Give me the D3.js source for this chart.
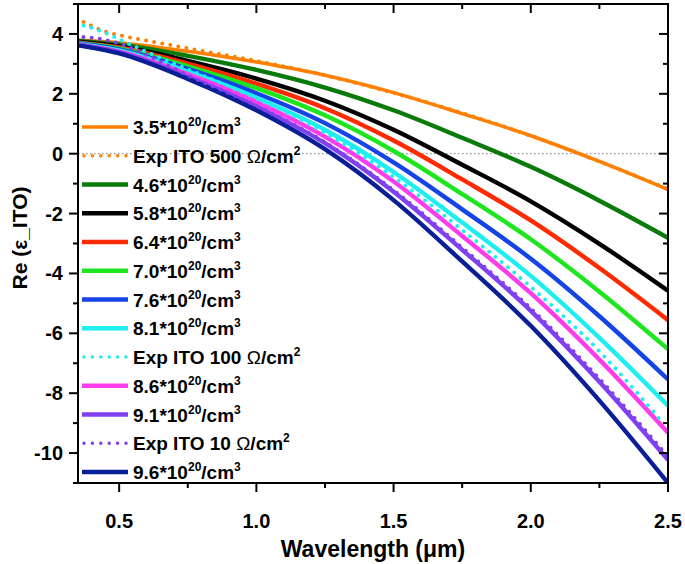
<!DOCTYPE html>
<html><head><meta charset="utf-8">
<script src="https://cdn.jsdelivr.net/npm/d3@7"></script>
<style>body{margin:0;background:#fff}text{font-family:"Liberation Sans",Arial,sans-serif;font-weight:bold}</style>
</head><body><svg id="c" width="685" height="564"></svg>
<script>
// ---- data ----
const wavelengths = [0.35,0.5,0.75,1.0,1.25,1.5,1.75,2.0,2.25,2.5];
const n35 = [3.80,3.71,3.42,3.06,2.62,2.04,1.34,0.60,-0.26,-1.20];
const n46 = [3.77,3.65,3.27,2.80,2.21,1.45,0.53,-0.44,-1.57,-2.81];
const n58 = [3.74,3.59,3.10,2.51,1.77,0.80,-0.37,-1.59,-3.01,-4.58];
const n64 = [3.72,3.55,3.01,2.34,1.52,0.44,-0.86,-2.23,-3.82,-5.56];
const n70 = [3.70,3.52,2.92,2.19,1.28,0.09,-1.35,-2.86,-4.61,-6.53];
const n76 = [3.69,3.48,2.83,2.02,1.02,-0.29,-1.86,-3.51,-5.43,-7.54];
const n81 = [3.67,3.45,2.74,1.87,0.80,-0.61,-2.30,-4.08,-6.15,-8.42];
const n86 = [3.65,3.41,2.66,1.73,0.57,-0.93,-2.75,-4.66,-6.88,-9.32];
const n91 = [3.64,3.38,2.57,1.58,0.35,-1.27,-3.21,-5.25,-7.62,-10.23];
const n96 = [3.62,3.35,2.50,1.45,0.15,-1.55,-3.60,-5.75,-8.25,-11.0];
const exp500X = [0.37,0.45,0.5,0.6,0.75,1.0,1.25,1.5,1.75,2.0,2.25,2.5];
const exp500Y = [4.40,4.08,3.96,3.78,3.52,3.10,2.62,2.03,1.36,0.60,-0.26,-1.18];
const exp100X = [0.37,0.42,0.45,0.5,0.6,0.75,1.0,1.25,1.5,1.75,2.0,2.25,2.47];
const exp100Y = [4.28,4.14,4.03,3.82,3.40,2.82,1.85,0.70,-0.78,-2.55,-4.45,-6.60,-8.87];
const exp10X = [0.37,0.45,0.5,0.6,0.75,1.0,1.25,1.5,1.75,2.0,2.25,2.5];
const exp10Y = [3.90,3.80,3.68,3.30,2.62,1.60,0.38,-1.22,-3.14,-5.17,-7.52,-10.12];
const xTicks = [0.5,1.0,1.5,2.0,2.5];
const yTicks = [-10,-8,-6,-4,-2,0,2,4];

const series = [
  {pre:"3.5*10", sup:"20", mid:"/cm", sup2:"3", xs:wavelengths, ys:n35, color:"#FF8000", dotted:false, w:3.5},
  {pre:"Exp ITO 500 ", omega:true, mid:"/cm", sup2:"2", xs:exp500X, ys:exp500Y, color:"#FF8000", dotted:true},
  {pre:"4.6*10", sup:"20", mid:"/cm", sup2:"3", xs:wavelengths, ys:n46, color:"#0A7A0A", dotted:false},
  {pre:"5.8*10", sup:"20", mid:"/cm", sup2:"3", xs:wavelengths, ys:n58, color:"#000000", dotted:false},
  {pre:"6.4*10", sup:"20", mid:"/cm", sup2:"3", xs:wavelengths, ys:n64, color:"#FF2A00", dotted:false},
  {pre:"7.0*10", sup:"20", mid:"/cm", sup2:"3", xs:wavelengths, ys:n70, color:"#1EE61E", dotted:false},
  {pre:"7.6*10", sup:"20", mid:"/cm", sup2:"3", xs:wavelengths, ys:n76, color:"#1444E6", dotted:false},
  {pre:"8.1*10", sup:"20", mid:"/cm", sup2:"3", xs:wavelengths, ys:n81, color:"#1EEEF0", dotted:false},
  {pre:"Exp ITO 100 ", omega:true, mid:"/cm", sup2:"2", xs:exp100X, ys:exp100Y, color:"#1EEEF0", dotted:true},
  {pre:"8.6*10", sup:"20", mid:"/cm", sup2:"3", xs:wavelengths, ys:n86, color:"#FF3CEB", dotted:false},
  {pre:"9.1*10", sup:"20", mid:"/cm", sup2:"3", xs:wavelengths, ys:n91, color:"#8040F0", dotted:false},
  {pre:"Exp ITO 10 ", omega:true, mid:"/cm", sup2:"2", xs:exp10X, ys:exp10Y, color:"#8040F0", dotted:true},
  {pre:"9.6*10", sup:"20", mid:"/cm", sup2:"3", xs:wavelengths, ys:n96, color:"#0A1E96", dotted:false}
];

// ---- layout ----
const svg = d3.select("#c");
const L = 78, R = 668, T = 4, B = 483;
const x = d3.scaleLinear().domain([0.35,2.5]).range([L,R]);
const y = d3.scaleLinear().domain([-11,5]).range([B,T]);

svg.append("line").attr("x1",L).attr("x2",R).attr("y1",y(0)).attr("y2",y(0))
  .attr("stroke","#777").attr("stroke-width",1).attr("stroke-dasharray","1.5,2.5");

svg.append("clipPath").attr("id","clp").append("rect")
  .attr("x",L).attr("y",T).attr("width",R-L).attr("height",B-T);
const plot = svg.append("g").attr("clip-path","url(#clp)");
const line = d3.line().curve(d3.curveMonotoneX);

function styleLine(sel, s){
  if(s.dotted){
    sel.attr("stroke-width",4).attr("stroke-linecap","round").attr("stroke-dasharray","0,8.2");
  } else {
    sel.attr("stroke-width",s.w||4.4).attr("stroke-linecap","butt");
  }
  return sel.attr("stroke",s.color).attr("fill","none");
}
series.filter(s=>!s.dotted).forEach(s=>{
  styleLine(plot.append("path").attr("d",line(s.xs.map((v,i)=>[x(v),y(s.ys[i])]))),s);
});
series.filter(s=>s.dotted).forEach(s=>{
  styleLine(plot.append("path").attr("d",line(s.xs.map((v,i)=>[x(v),y(s.ys[i])]))),s);
});

// ---- axes ----
const ax = svg.append("g").attr("stroke","#000").attr("stroke-width",2);
ax.append("rect").attr("x",L).attr("y",T).attr("width",R-L).attr("height",B-T).attr("fill","none");
d3.range(0.5,2.51,0.25).forEach(v=>{
  const major = xTicks.some(t=>Math.abs(t-v)<1e-6);
  const len = major?9:5;
  ax.append("line").attr("x1",x(v)).attr("x2",x(v)).attr("y1",B).attr("y2",B+len);
  ax.append("line").attr("x1",x(v)).attr("x2",x(v)).attr("y1",T).attr("y2",T+len);
});
d3.range(-11,5.01,1).forEach(v=>{
  const major = yTicks.includes(v);
  const len = major?9:5;
  ax.append("line").attr("x1",L-len).attr("x2",L).attr("y1",y(v)).attr("y2",y(v));
  ax.append("line").attr("x1",R-len).attr("x2",R).attr("y1",y(v)).attr("y2",y(v));
});
svg.append("g").selectAll("text").data(xTicks).join("text")
  .attr("x",d=>x(d)).attr("y",528).attr("text-anchor","middle").attr("font-size",20)
  .text(d=>d3.format(".1f")(d));
svg.append("g").selectAll("text").data(yTicks).join("text")
  .attr("x",63).attr("y",d=>y(d)+7).attr("text-anchor","end").attr("font-size",20)
  .text(d=>d);
svg.append("text").attr("x",373).attr("y",557).attr("text-anchor","middle").attr("font-size",23)
  .text("Wavelength (\u03BCm)");
svg.append("text").attr("transform","translate(27,238) rotate(-90)").attr("text-anchor","middle")
  .attr("font-size",21).text("Re (\u03B5_ITO)");

// ---- legend ----
const lg = svg.append("g");
series.forEach((s,i)=>{
  const yy = 127 + i*28.75;
  const ln = lg.append("line").attr("x1",s.dotted?84:82).attr("x2",128).attr("y1",yy).attr("y2",yy);
  styleLine(ln,s);
  if(s.dotted) ln.attr("stroke-width",3.5).attr("stroke-dasharray","0,8.4");
  const t = lg.append("text").attr("x",133).attr("y",yy+7).attr("font-size",19);
  t.append("tspan").text(s.pre);
  if(s.omega) t.append("tspan").attr("font-weight","normal").text("\u03A9");
  if(s.sup) t.append("tspan").attr("dy",-8).attr("font-size",12).text(s.sup);
  t.append("tspan").attr("dy",s.sup?8:0).text(s.mid);
  t.append("tspan").attr("dy",-8).attr("font-size",12).text(s.sup2);
});
</script></body></html>
